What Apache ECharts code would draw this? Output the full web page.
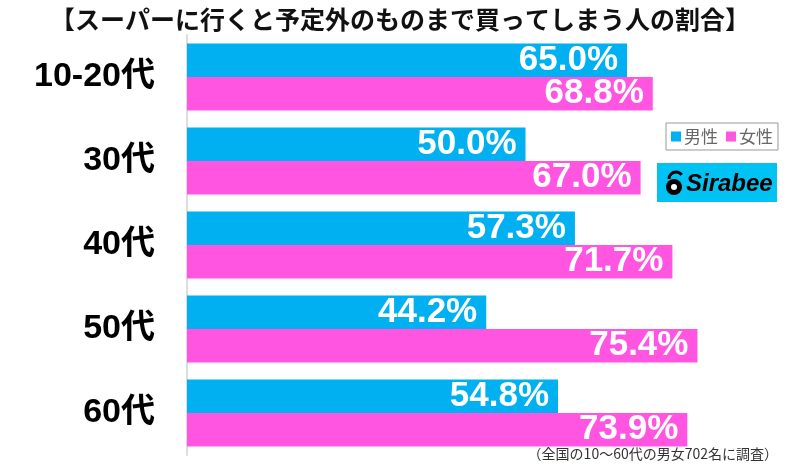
<!DOCTYPE html>
<html><head><meta charset="utf-8">
<script src="https://cdn.jsdelivr.net/npm/echarts@6/dist/echarts.min.js"></script>
<style>html,body{margin:0;padding:0;background:#fff}#c{width:800px;height:466px}</style>
</head><body><div id="c"></div>
<script>
const categories = ['10-20代','30代','40代','50代','60代'];
const male = [65.0, 50.0, 57.3, 44.2, 54.8];
const female = [68.8, 67.0, 71.7, 75.4, 73.9];
const seriesNames = ['男性','女性'];
const titleText = '【スーパーに行くと予定外のものまで買ってしまう人の割合】';
const noteText = '（全国の10～60代の男女702名に調査）';

const chart = echarts.init(document.getElementById('c'));
const labelStyle = {
  show: true, position: 'insideRight', distance: 9, color: '#fff',
  fontFamily: 'Liberation Sans, Arial, sans-serif', fontWeight: 'bold', fontSize: 35,
  formatter: p => p.value.toFixed(1) + '%'
};
chart.setOption({
  animation: false,
  title: {
    text: titleText, left: 'center', top: 2,
    textStyle: {fontFamily: 'Noto Sans CJK JP', fontWeight: 'bold', fontSize: 25, color: '#111'}
  },
  legend: {
    data: seriesNames, left: 666, top: 123, icon: 'rect', itemWidth: 10, itemHeight: 10, itemGap: 8,
    borderColor: '#999', borderWidth: 1, padding: [5, 5],
    textStyle: {fontFamily: 'Noto Sans CJK JP', fontSize: 17, color: '#666', padding: [0,0,0,-2]}
  },
  grid: {left: 187, top: 35, height: 420, right: 71.4},
  xAxis: {type: 'value', min: 0, max: 80, show: false},
  yAxis: {
    type: 'category', data: categories, inverse: true,
    axisLine: {show: true, lineStyle: {color: '#ddd', width: 2}},
    axisTick: {show: false},
    axisLabel: {margin: 32, color: '#000', fontFamily: 'Liberation Sans, Noto Sans CJK JP', fontWeight: 'bold', fontSize: 34}
  },
  series: [
    {name: seriesNames[0], type: 'bar', data: male, barGap: '0%', barCategoryGap: '20%',
     itemStyle: {color: '#00b0f0'}, label: labelStyle},
    {name: seriesNames[1], type: 'bar', data: female,
     itemStyle: {color: '#ff55e1'}, label: labelStyle}
  ],
  graphic: [
    {type: 'text', right: 22, top: 447, style: {text: noteText, fontFamily: 'Noto Sans CJK JP', fontSize: 14, fill: '#333'}},
    {type: 'group', left: 657, top: 163, children: [
      {type: 'rect', shape: {x: 0, y: 0, width: 120, height: 39}, style: {fill: '#00c3f3'}},
      {type: 'circle', shape: {cx: 17, cy: 24, r: 8}, style: {fill: '#000'}},
      {type: 'arc', shape: {cx: 19, cy: 16, r: 7, startAngle: Math.PI, endAngle: Math.PI * 1.8}, style: {stroke: '#000', lineWidth: 3, fill: 'none'}},
      {type: 'circle', shape: {cx: 17, cy: 24, r: 3}, style: {fill: '#fff'}},
      {type: 'text', x: 29, y: 21, style: {text: 'Sirabee', fontFamily: 'Liberation Sans', fontStyle: 'italic', fontWeight: 'bold', fontSize: 24, fill: '#000', verticalAlign: 'middle'}}
    ]}
  ]
});
</script></body></html>
